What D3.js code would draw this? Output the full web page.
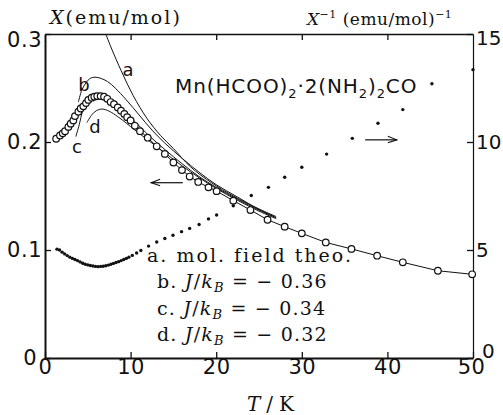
<!DOCTYPE html>
<html>
<head>
<meta charset="utf-8">
<script src="https://d3js.org/d3.v7.min.js"></script>
<style>
  body { margin: 0; background: #fff; }
  svg text { fill: #111; }
</style>
</head>
<body>
<svg id="chart" width="503" height="415"></svg>
<script>
// measured susceptibility (open circles), T in K, chi in emu/mol
var chiT = [1.3, 1.75, 2.07, 2.34, 2.73, 3.0, 3.31, 3.5, 3.9, 4.17, 4.48, 4.79, 5.06, 5.45, 5.76, 6.1, 6.5, 6.9, 7.28, 7.67, 8.06, 8.5, 8.88, 9.27, 9.6, 10.0, 10.5, 11.1, 12.0, 13.05, 14.0, 15.0, 16.0, 16.9, 17.9, 19.1, 20.05, 22.0, 24.0, 26.0, 28.0, 30.0, 32.8, 35.8, 38.8, 41.8, 45.9, 49.9];
var chiV = [0.203, 0.206, 0.208, 0.210, 0.214, 0.217, 0.220, 0.224, 0.228, 0.231, 0.233, 0.236, 0.239, 0.241, 0.242, 0.2425, 0.2425, 0.242, 0.240, 0.237, 0.235, 0.232, 0.229, 0.226, 0.223, 0.220, 0.215, 0.210, 0.204, 0.196, 0.189, 0.181, 0.174, 0.168, 0.163, 0.158, 0.1545, 0.1457, 0.137, 0.128, 0.1216, 0.1154, 0.107, 0.101, 0.0947, 0.0886, 0.0808, 0.0775];

// inverse susceptibility (filled dots), (emu/mol)^-1
var invT = [1.4, 1.7, 2.0, 2.3, 2.6, 2.9, 3.2, 3.5, 3.8, 4.1, 4.4, 4.7, 5.0, 5.3, 5.6, 5.9, 6.2, 6.5, 6.8, 7.1, 7.4, 7.7, 8.0, 8.3, 8.6, 8.9, 9.2, 9.5, 9.8, 10.2, 10.7, 11.2, 12.1, 13.05, 14.0, 14.95, 15.95, 16.9, 18.0, 19.1, 20.05, 22.0, 24.1, 26.1, 28.0, 30.0, 32.9, 35.9, 38.9, 41.8, 45.2, 50.0];
var invV = [5.04, 5.0, 4.9, 4.82, 4.74, 4.67, 4.61, 4.56, 4.51, 4.45, 4.39, 4.34, 4.31, 4.28, 4.26, 4.24, 4.23, 4.24, 4.25, 4.27, 4.3, 4.34, 4.38, 4.42, 4.46, 4.51, 4.56, 4.61, 4.67, 4.75, 4.86, 4.98, 5.18, 5.37, 5.53, 5.68, 5.85, 6.0, 6.18, 6.44, 6.62, 7.05, 7.52, 7.9, 8.37, 8.83, 9.44, 10.17, 10.87, 11.5, 12.7, 13.35];

// calculated curves
var aT = [7.1, 7.8, 8.9, 10.3, 11.9, 13.5, 15, 17, 19.5, 22, 25, 27];
var aV = [0.300, 0.286, 0.266, 0.243, 0.222, 0.206, 0.194, 0.177, 0.162, 0.150, 0.138, 0.131];
var bT = [3.9, 4.3, 4.8, 5.3, 5.85, 6.5, 7.3, 8.2, 9.5, 11, 12.5, 14, 16, 18, 20, 22.5, 25, 27];
var bV = [0.237, 0.248, 0.255, 0.259, 0.260, 0.259, 0.256, 0.250, 0.239, 0.225, 0.211, 0.199, 0.185, 0.172, 0.1605, 0.149, 0.1375, 0.130];
var cT = [3.6, 4.0, 4.4, 4.8, 5.5, 6.3, 7.2, 8.2, 9.3, 10.5, 12, 14, 16, 18, 20, 22.5, 25, 27];
var cV = [0.205, 0.216, 0.229, 0.236, 0.2415, 0.2435, 0.2415, 0.2355, 0.228, 0.219, 0.207, 0.193, 0.180, 0.168, 0.158, 0.147, 0.137, 0.130];
var dT = [4.9, 5.5, 6.0, 6.7, 7.5, 8.5, 9.5, 10.5, 12, 14, 16, 18, 20, 22.5, 25, 27];
var dV = [0.218, 0.2255, 0.229, 0.2305, 0.2285, 0.2235, 0.2175, 0.211, 0.202, 0.190, 0.178, 0.167, 0.157, 0.146, 0.136, 0.129];

var xTicks = [0, 10, 20, 30, 40, 50];
var chiTicks = [0, 0.1, 0.2, 0.3];
var invTicks = [0, 5, 10, 15];

var sans = "'DejaVu Sans', sans-serif";
var serif = "'DejaVu Serif', serif";

var svg = d3.select("#chart");
var plotL = 45, plotR = 473, plotT = 34, plotB = 358;

var x = d3.scaleLinear().domain([0, 50]).range([plotL, plotR]);
var yL = d3.scaleLinear().domain([0, 0.3]).range([plotB, plotT]);
var yR = d3.scaleLinear().domain([0, 15]).range([plotB, plotT]);

function zip(ts, vs) { return ts.map(function (t, i) { return [t, vs[i]]; }); }

// axes, all ticks pointing inward
var gB = svg.append("g").attr("transform", "translate(0," + plotB + ")")
    .call(d3.axisBottom(x).tickValues(xTicks).tickSize(-6).tickSizeOuter(0).tickPadding(1)
        .tickFormat(d3.format("d")));
var gT = svg.append("g").attr("transform", "translate(0," + plotT + ")")
    .call(d3.axisTop(x).tickValues([10, 20, 30, 40]).tickSize(-6).tickSizeOuter(0).tickFormat(""));
var gL = svg.append("g").attr("transform", "translate(" + plotL + ",0)")
    .call(d3.axisLeft(yL).tickValues(chiTicks).tickSize(-6).tickSizeOuter(0).tickPadding(3)
        .tickFormat(function (d) { return d === 0 ? "0" : d3.format(".1f")(d); }));
var gR = svg.append("g").attr("transform", "translate(" + plotR + ",0)")
    .call(d3.axisRight(yR).tickValues(invTicks).tickSize(-6).tickSizeOuter(0).tickPadding(3)
        .tickFormat(d3.format("d")));

[gB, gT, gL].forEach(function (g) {
  g.selectAll("text").style("font-family", sans).style("font-size", "21px")
      .style("letter-spacing", "0.5px").style("fill", "#111");
});
gR.selectAll("text").style("font-family", sans).style("font-size", "20px").style("fill", "#111");
[gB, gT, gL, gR].forEach(function (g) {
  g.selectAll("line").attr("stroke", "#111").attr("stroke-width", 1.3);
  g.select(".domain").attr("stroke", "#111");
});
gB.select(".domain").attr("stroke-width", 2);
gL.select(".domain").attr("stroke-width", 2);
gT.select(".domain").attr("stroke-width", 1.5);
gR.select(".domain").attr("stroke-width", 1.2);
gL.selectAll("text").filter(function (d) { return d === 0; }).attr("x", -8);
gL.selectAll("text").filter(function (d) { return d === 0.3; }).attr("dy", "0.6em");
gR.selectAll("text").filter(function (d) { return d === 0; }).attr("dy", "-0.05em").attr("x", 9);
gR.selectAll("text").filter(function (d) { return d === 15; }).attr("dy", "0.5em");
gB.selectAll("text").filter(function (d) { return d === 50; }).attr("dx", -2);

// axis titles
var tl = svg.append("text").attr("x", 50).attr("y", 24)
    .style("font-family", serif).style("font-size", "19px").style("letter-spacing", "2px");
tl.append("tspan").style("font-style", "italic").text("X");
tl.append("tspan").text("(emu/mol)");

var tr = svg.append("text").attr("x", 307).attr("y", 25)
    .style("font-family", serif).style("font-size", "17px").style("letter-spacing", "0.5px");
tr.append("tspan").style("font-style", "italic").text("X");
tr.append("tspan").attr("dy", -7).style("font-size", "11px").text("−1");
tr.append("tspan").attr("dy", 7).text(" (emu/mol)");
tr.append("tspan").attr("dy", -7).style("font-size", "11px").text("−1");

var tx = svg.append("text").attr("x", 247).attr("y", 411)
    .style("font-family", serif).style("font-size", "20px").style("letter-spacing", "6px");
tx.append("tspan").style("font-style", "italic").text("T");
tx.append("tspan").text("/K");

// calculated curves
var line = d3.line().x(function (d) { return x(d[0]); }).y(function (d) { return yL(d[1]); })
    .curve(d3.curveCatmullRom);
[[aT, aV], [bT, bV], [cT, cV], [dT, dV]].forEach(function (c) {
  svg.append("path").datum(zip(c[0], c[1])).attr("d", line)
      .attr("fill", "none").attr("stroke", "#111").attr("stroke-width", 1);
});

// inverse susceptibility dots
svg.append("g").selectAll("circle").data(zip(invT, invV)).enter().append("circle")
    .attr("cx", function (d) { return x(d[0]); })
    .attr("cy", function (d) { return yR(d[1]); })
    .attr("r", 1.7).attr("fill", "#111");

// measured chi: connecting line and open circles
svg.append("path").datum(zip(chiT, chiV))
    .attr("d", d3.line().x(function (d) { return x(d[0]); }).y(function (d) { return yL(d[1]); }))
    .attr("fill", "none").attr("stroke", "#111").attr("stroke-width", 1);
svg.append("g").selectAll("circle").data(zip(chiT, chiV)).enter().append("circle")
    .attr("cx", function (d) { return x(d[0]); })
    .attr("cy", function (d) { return yL(d[1]); })
    .attr("r", 3.3).attr("fill", "#fff").attr("stroke", "#111").attr("stroke-width", 1.2);

// curve letters
var letters = [["a", 9.7, 0.261], ["b", 4.55, 0.247], ["c", 3.74, 0.19], ["d", 5.84, 0.2083]];
svg.append("g").selectAll("text").data(letters).enter().append("text")
    .attr("x", function (d) { return x(d[1]); })
    .attr("y", function (d) { return yL(d[2]); })
    .attr("text-anchor", "middle")
    .style("font-family", sans).style("font-size", "18px")
    .text(function (d) { return d[0]; });

// compound formula
var f = svg.append("text").attr("x", 175).attr("y", 93)
    .style("font-family", sans).style("font-size", "20px").style("letter-spacing", "0.9px");
f.append("tspan").text("Mn(HCOO)");
f.append("tspan").attr("dy", 5).style("font-size", "13px").text("2");
f.append("tspan").attr("dy", -5).text("·2(NH");
f.append("tspan").attr("dy", 5).style("font-size", "13px").text("2");
f.append("tspan").attr("dy", -5).text(")");
f.append("tspan").attr("dy", 5).style("font-size", "13px").text("2");
f.append("tspan").attr("dy", -5).text("CO");

// arrows pointing to the relevant axis
function arrow(x1, x2, yy) {
  var dir = x2 > x1 ? 1 : -1;
  svg.append("line").attr("x1", x1).attr("x2", x2).attr("y1", yy).attr("y2", yy)
      .attr("stroke", "#111").attr("stroke-width", 1.2);
  svg.append("path")
      .attr("d", "M" + (x2 - dir * 9) + "," + (yy - 3.5) + "L" + x2 + "," + yy + "L" + (x2 - dir * 9) + "," + (yy + 3))
      .attr("fill", "none").attr("stroke", "#111").attr("stroke-width", 1.1);
}
arrow(x(16.1), x(12.4), yL(0.1623));
arrow(x(37.4), x(41.1), yR(10.1));

// legend
var legend = [["a.", null, "mol. field theo."], ["b.", "0.36"], ["c.", "0.34"], ["d.", "0.32"]];
legend.forEach(function (l, i) {
  var t = svg.append("text").attr("x", i === 0 ? 147 : 157).attr("y", 262 + i * 26.3)
      .style("font-family", serif).style("font-size", "19px")
      .style("letter-spacing", i === 0 ? "2px" : "1.2px");
  t.append("tspan").text(l[0] + " ");
  if (l[1] === null) {
    t.append("tspan").text(l[2]);
  } else {
    t.append("tspan").style("font-style", "italic").text(" J");
    t.append("tspan").text("/");
    t.append("tspan").style("font-style", "italic").text("k");
    t.append("tspan").attr("dy", 4).style("font-style", "italic").style("font-size", "13px").text("B");
    t.append("tspan").attr("dy", -4).text(" =  − " + l[1]);
  }
});
</script>
</body>
</html>
